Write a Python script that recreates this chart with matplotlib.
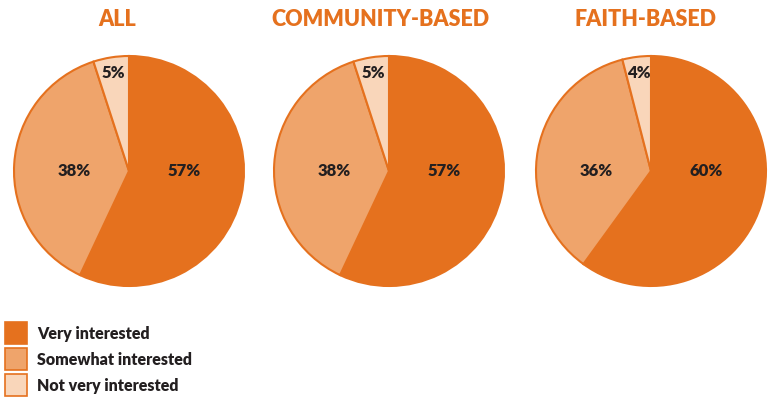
import numpy as np
import matplotlib.pyplot as plt
from matplotlib.patches import Rectangle

# Data
groups = ['ALL', 'COMMUNITY-BASED', 'FAITH-BASED']
categories = ['Very interested', 'Somewhat interested', 'Not very interested']
values = [
    [57, 38, 5],
    [57, 38, 5],
    [60, 36, 4],
]

colors = ['#E5711E', '#EFA46B', '#F9D6BA']
edge = '#E5711E'
title_color = '#E5711E'
text_dark = '#231F20'

plt.rcParams['font.family'] = ['Lato', 'DejaVu Sans']

W, H = 768, 398
fig = plt.figure(figsize=(W / 100, H / 100), dpi=100)

centers_x = [129, 389, 651]
title_x = [117, 380, 645]
cy = 171
R = 115

for i, (grp, vals) in enumerate(zip(groups, values)):
    cx = centers_x[i]
    ax = fig.add_axes([(cx - R) / W, (H - cy - R) / H, 2 * R / W, 2 * R / H])
    wedges, _ = ax.pie(vals, colors=colors, startangle=90, counterclock=False,
                       wedgeprops=dict(edgecolor=edge, linewidth=1.5))
    ax.set_xlim(-1, 1)
    ax.set_ylim(-1, 1)
    ax.set_aspect('equal')
    ax.axis('off')
    for j, (w, v) in enumerate(zip(wedges, vals)):
        mid = np.deg2rad((w.theta1 + w.theta2) / 2)
        if v > 20:
            x, y = 0.48 * np.sign(np.cos(mid)), 0.0
        else:
            x, y = 0.86 * np.cos(mid), 0.86 * np.sin(mid)
        ax.text(x, y, f'{v}%', ha='center', va='center', fontsize=12,
                fontweight='heavy', color=text_dark)
    fig.text(title_x[i] / W, 1 - 20 / H, grp, ha='center', va='center',
             fontsize=15.5, fontweight='heavy', color=title_color)

# Legend
for k, (cat, col) in enumerate(zip(categories, colors)):
    ytop = 322 + k * 26
    fig.patches.append(Rectangle((5 / W, 1 - (ytop + 22) / H), 22 / W, 22 / H,
                                 transform=fig.transFigure, facecolor=col,
                                 edgecolor=edge, linewidth=1.2))
    fig.text(37 / W, 1 - (ytop + 12) / H, cat, ha='left', va='center',
             fontsize=11.5, fontweight='heavy', color=text_dark)

fig.savefig('out.png', dpi=100)
